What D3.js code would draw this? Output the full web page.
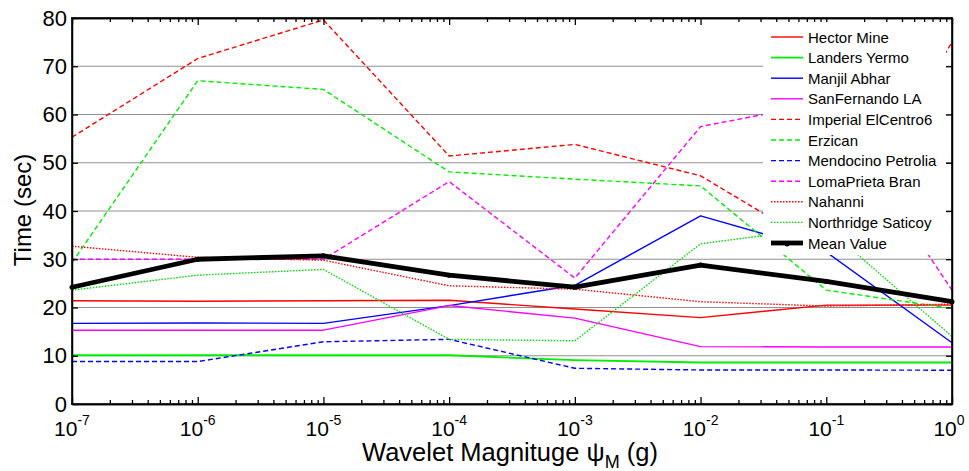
<!DOCTYPE html>
<html>
<head>
<meta charset="utf-8">
<script src="https://cdn.jsdelivr.net/npm/d3@7"></script>
<style>
  html, body { margin: 0; padding: 0; background: #fff; }
  svg { display: block; font-family: "Liberation Sans", Arial, sans-serif; }
</style>
</head>
<body>
<svg id="chart" width="969" height="471"></svg>
<script>
// Wavelet magnitudes (g), one per decade
const magnitudes = [1e-7, 1e-6, 1e-5, 1e-4, 1e-3, 1e-2, 1e-1, 1];

// Time (sec) for each record
const hectorMine        = [21.4, 21.3, 21.4, 21.5, 19.7, 17.9, 20.5, 20.5];
const landersYermo      = [10.1, 10.1, 10.1, 10.1, 9.1, 8.6, 8.6, 8.6];
const manjilAbhar       = [16.7, 16.8, 16.7, 20.4, 24.6, 39.0, 31.5, 12.7];
const sanFernandoLA     = [15.3, 15.3, 15.3, 20.4, 17.8, 11.9, 11.8, 11.8];
const imperialElCentro6 = [55.3, 71.6, 79.6, 51.4, 53.8, 47.3, 31.7, 75.0];
const erzican           = [29.3, 67.0, 65.2, 48.1, 46.6, 45.2, 23.6, 19.8];
const mendocinoPetrolia = [8.8, 8.8, 12.9, 13.4, 7.4, 7.05, 7.05, 7.0];
const lomaPrietaBran    = [30.0, 30.0, 30.0, 46.1, 26.1, 57.5, 62.5, 23.6];
const nahanni           = [32.7, 30.4, 29.8, 24.5, 23.8, 21.2, 20.3, 20.7];
const northridgeSaticoy = [23.6, 26.7, 27.9, 13.4, 13.1, 33.2, 36.6, 14.0];
const meanValue         = [24.2, 30.0, 30.7, 26.7, 24.2, 28.8, 25.4, 21.2];

const seriesNames = ["Hector Mine", "Landers Yermo", "Manjil Abhar", "SanFernando LA",
  "Imperial ElCentro6", "Erzican", "Mendocino Petrolia", "LomaPrieta Bran",
  "Nahanni", "Northridge Saticoy", "Mean Value"];
const seriesValues = [hectorMine, landersYermo, manjilAbhar, sanFernandoLA,
  imperialElCentro6, erzican, mendocinoPetrolia, lomaPrietaBran,
  nahanni, northridgeSaticoy, meanValue];

const yTickValues = [0, 10, 20, 30, 40, 50, 60, 70, 80];
const xTickExponents = [-7, -6, -5, -4, -3, -2, -1, 0];

// Line styling per series
const styles = [
  { color: "#ff0000", dash: null,  width: 1.4 },
  { color: "#00ee00", dash: null,  width: 1.8 },
  { color: "#0000ff", dash: null,  width: 1.4 },
  { color: "#ff00ff", dash: null,  width: 1.4 },
  { color: "#ff0000", dash: "5,3", width: 1.4 },
  { color: "#00ee00", dash: "5,3", width: 1.4 },
  { color: "#0000ff", dash: "5,3", width: 1.4 },
  { color: "#ff00ff", dash: "5,3", width: 1.4 },
  { color: "#ff0000", dash: "1.5,1.5", width: 1.4 },
  { color: "#00dd00", dash: "1.5,1.5", width: 1.4 },
  { color: "#000000", dash: null,  width: 4.8 }
];

const svg = d3.select("#chart");
const plotLeft = 72, plotRight = 952, plotTop = 18, plotBottom = 404;

const x = d3.scaleLog().domain([1e-7, 1]).range([plotLeft, plotRight]);
const y = d3.scaleLinear().domain([0, 80]).range([plotBottom, plotTop]);

svg.append("rect").attr("width", 969).attr("height", 471).attr("fill", "#fff");

// horizontal grid
svg.append("g").selectAll("line")
  .data(yTickValues.filter(v => v > 0 && v < 80))
  .join("line")
  .attr("x1", plotLeft).attr("x2", plotRight)
  .attr("y1", d => y(d)).attr("y2", d => y(d))
  .attr("stroke", "#8f8f8f").attr("stroke-width", 1.1);

// data lines
const line = d3.line().x((d, i) => x(magnitudes[i])).y(d => y(d));
const plot = svg.append("g");
seriesValues.forEach((vals, k) => {
  const s = styles[k];
  plot.append("path")
    .datum(vals)
    .attr("d", line)
    .attr("fill", "none")
    .attr("stroke", s.color)
    .attr("stroke-width", s.width)
    .attr("stroke-linejoin", "round")
    .attr("stroke-dasharray", s.dash);
});
// point markers on the mean curve
plot.append("g").selectAll("circle")
  .data(meanValue)
  .join("circle")
  .attr("cx", (d, i) => x(magnitudes[i]))
  .attr("cy", d => y(d))
  .attr("r", 2.5)
  .attr("fill", "#000");

// axes: ticks point inward, box on all four sides
const minorTicks = [];
for (let e = -7; e < 0; e++) for (let m = 2; m <= 9; m++) minorTicks.push(m * Math.pow(10, e));
const majorTicks = xTickExponents.map(e => Math.pow(10, e));

function styleAxis(g) {
  g.attr("color", "#000");
  g.selectAll("path.domain").attr("stroke", "#000").attr("stroke-width", 1.5);
  g.selectAll(".tick line").attr("stroke", "#000").attr("stroke-width", 1.3);
  g.selectAll(".tick text").remove();
}

svg.append("g").attr("transform", `translate(0,${plotBottom})`)
  .call(d3.axisBottom(x).tickValues(majorTicks).tickSizeInner(-7).tickSizeOuter(0).tickFormat(""))
  .call(styleAxis);
svg.append("g").attr("transform", `translate(0,${plotBottom})`)
  .call(d3.axisBottom(x).tickValues(minorTicks).tickSizeInner(-4).tickSizeOuter(0).tickFormat(""))
  .call(styleAxis);
svg.append("g").attr("transform", `translate(0,${plotTop})`)
  .call(d3.axisTop(x).tickValues(majorTicks).tickSizeInner(-7).tickSizeOuter(0).tickFormat(""))
  .call(styleAxis);
svg.append("g").attr("transform", `translate(0,${plotTop})`)
  .call(d3.axisTop(x).tickValues(minorTicks).tickSizeInner(-4).tickSizeOuter(0).tickFormat(""))
  .call(styleAxis);
svg.append("g").attr("transform", `translate(${plotRight},0)`)
  .call(d3.axisRight(y).tickValues(yTickValues).tickSizeInner(-6).tickSizeOuter(0).tickFormat(""))
  .call(styleAxis);

const yAxis = svg.append("g").attr("transform", `translate(${plotLeft},0)`)
  .call(d3.axisLeft(y).tickValues(yTickValues).tickSizeInner(-6).tickSizeOuter(0).tickPadding(5));
yAxis.attr("color", "#000");
yAxis.selectAll("path.domain").attr("stroke", "#000").attr("stroke-width", 1.5);
yAxis.selectAll(".tick line").attr("stroke", "#000").attr("stroke-width", 1.3);
yAxis.selectAll(".tick text")
  .attr("font-size", 22).attr("fill", "#000")
  .attr("font-family", "Liberation Sans, Arial, sans-serif");

// axes box edges
const boxEdges = [
  [plotLeft, plotTop, plotRight, plotTop],
  [plotLeft, plotBottom, plotRight, plotBottom],
  [plotLeft, plotTop, plotLeft, plotBottom],
  [plotRight, plotTop, plotRight, plotBottom]
];
svg.append("g").selectAll("line")
  .data(boxEdges)
  .join("line")
  .attr("x1", d => d[0]).attr("y1", d => d[1])
  .attr("x2", d => d[2]).attr("y2", d => d[3])
  .attr("stroke", "#000").attr("stroke-width", 1.6)
  .attr("stroke-linecap", "square");

// x tick labels as powers of ten
const xl = svg.append("g").attr("font-size", 21).attr("fill", "#000");
xTickExponents.forEach(e => {
  const t = xl.append("text")
    .attr("x", x(Math.pow(10, e)) - (e === 0 ? 3 : 0))
    .attr("y", 436)
    .attr("text-anchor", "middle");
  t.append("tspan").text("10");
  t.append("tspan").attr("font-size", 14).attr("dy", -11).text(e === 0 ? "0" : "-" + Math.abs(e));
});

// axis titles
const xt = svg.append("text")
  .attr("x", 510).attr("y", 461)
  .attr("text-anchor", "middle")
  .attr("font-size", 25.5).attr("fill", "#000");
xt.append("tspan").text("Wavelet Magnituge \u03C8");
xt.append("tspan").attr("font-size", 18).attr("dy", 7).text("M");
xt.append("tspan").attr("dy", -7).text(" (g)");

svg.append("text")
  .attr("transform", "translate(31,210) rotate(-90)")
  .attr("text-anchor", "middle")
  .attr("font-size", 24).attr("fill", "#000")
  .text("Time (sec)");

// legend
const lg = svg.append("g");
lg.append("rect").attr("x", 763).attr("y", 22).attr("width", 183).attr("height", 233).attr("fill", "#fff");
seriesNames.forEach((name, k) => {
  const s = styles[k];
  const cy = 37 + k * 20.6;
  lg.append("line")
    .attr("x1", 771).attr("x2", 803).attr("y1", cy).attr("y2", cy)
    .attr("stroke", s.color)
    .attr("stroke-width", s.width)
    .attr("stroke-dasharray", s.dash);
  if (k === seriesNames.length - 1) {
    lg.append("circle").attr("cx", 787).attr("cy", cy + 1).attr("r", 2.5).attr("fill", "#000");
  }
  lg.append("text")
    .attr("x", 808).attr("y", cy + 5.5)
    .attr("font-size", 15).attr("fill", "#000")
    .text(name);
});
</script>
</body>
</html>
